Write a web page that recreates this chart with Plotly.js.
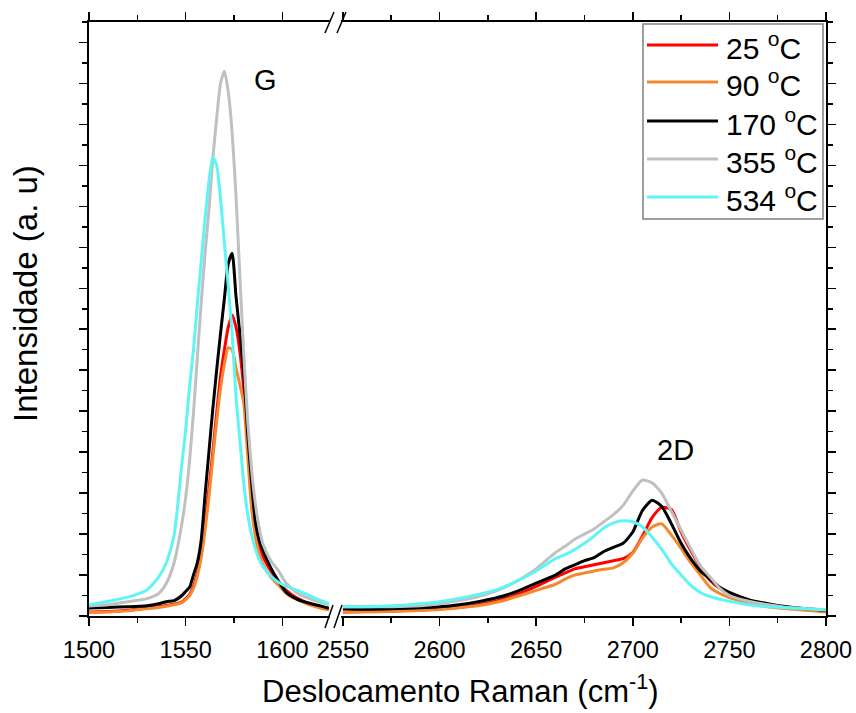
<!DOCTYPE html>
<html><head><meta charset="utf-8">
<script src="https://cdn.plot.ly/plotly-3.0.1.min.js"></script>
<style>html,body{margin:0;padding:0;background:#fff}#chart{width:856px;height:713px}</style>
</head><body><div id="chart"></div>
<script>
// Series labels and colours
const seriesNames = ['25 <sup>o</sup>C', '90 <sup>o</sup>C', '170 <sup>o</sup>C', '355 <sup>o</sup>C', '534 <sup>o</sup>C'];
const seriesColors = ['#ff0000', '#f3892f', '#000000', '#c0c0c0', '#5ff5f5'];

// G band region (cm-1)
const xG = [1500,1510,1520,1530,1536,1540,1544,1548,1550,1552,1554,1556,1558,1560,1562,1564,1566,1568,1570,1572,1574,1576,1578,1580,1582,1584,1586,1588,1590,1594,1598,1602,1608,1614,1620,1624];
const g25  = [0.2,0.22,0.28,0.39,0.45,0.52,0.58,0.68,0.85,1.05,1.45,2.1,3.0,4.5,6.2,8.0,9.9,11.7,13.0,14.1,14.7,14.1,12.9,11.1,8.8,6.3,4.5,3.5,2.9,2.2,1.65,1.25,0.85,0.6,0.42,0.32];
const g90  = [0.18,0.2,0.25,0.36,0.42,0.48,0.55,0.65,0.8,1.0,1.35,1.95,2.85,4.2,5.8,7.7,9.5,11.1,12.3,13.1,13.0,12.1,11.3,10.4,7.9,5.3,3.9,3.0,2.5,1.9,1.5,1.1,0.78,0.55,0.38,0.3];
const g170 = [0.39,0.42,0.45,0.5,0.6,0.7,0.75,1.0,1.2,1.4,2.0,2.6,3.7,5.9,8.0,10.1,12.0,13.8,15.5,17.2,17.7,15.6,13.8,11.9,9.0,6.6,4.6,3.7,3.2,2.35,1.7,1.15,0.8,0.62,0.48,0.38];
const g355 = [0.49,0.55,0.7,0.85,1.1,1.6,2.6,4.5,5.8,7.6,9.9,12.6,15.3,17.7,19.8,22.3,24.3,26.0,26.6,25.6,23.6,20.5,16.6,12.8,9.6,7.2,5.5,4.3,3.5,2.7,2.2,1.6,1.1,0.85,0.65,0.55];
const g534 = [0.54,0.72,0.92,1.27,1.9,2.6,3.95,7.4,9.1,11.2,13.0,15.2,17.3,19.4,21.2,22.4,22.0,20.4,18.2,16.1,13.8,10.7,8.6,6.5,5.0,4.0,3.3,2.75,2.4,1.95,1.65,1.45,1.25,1.0,0.75,0.6];

// 2D band region (cm-1)
const x2D = [2550,2560,2575,2590,2600,2610,2620,2630,2640,2650,2660,2665,2670,2675,2680,2685,2690,2695,2700,2705,2710,2715,2720,2725,2730,2735,2740,2745,2750,2760,2770,2780,2790,2800];
const d25  = [0.2,0.22,0.25,0.3,0.35,0.42,0.55,0.75,1.05,1.45,1.9,2.1,2.3,2.4,2.5,2.6,2.7,2.8,3.1,3.9,4.8,5.3,5.2,4.1,3.2,2.4,1.75,1.35,1.1,0.75,0.55,0.4,0.3,0.22];
const d90  = [0.18,0.2,0.22,0.27,0.32,0.4,0.5,0.68,0.95,1.25,1.55,1.8,2.0,2.1,2.2,2.28,2.35,2.6,3.06,3.8,4.35,4.5,3.95,3.3,2.6,2.0,1.4,1.1,0.9,0.62,0.45,0.35,0.28,0.2];
const d170 = [0.35,0.33,0.35,0.4,0.45,0.55,0.7,0.9,1.2,1.6,2.0,2.3,2.5,2.7,2.85,3.15,3.35,3.55,4.1,5.15,5.65,5.35,4.5,3.55,2.8,2.2,1.8,1.4,1.15,0.8,0.6,0.45,0.35,0.28];
const d355 = [0.45,0.45,0.45,0.5,0.6,0.75,0.95,1.25,1.7,2.3,3.1,3.4,3.75,4.0,4.25,4.6,4.95,5.4,6.1,6.64,6.5,6.0,5.1,4.2,3.3,2.45,1.9,1.35,1.0,0.72,0.55,0.42,0.35,0.3];
const d534 = [0.45,0.45,0.5,0.6,0.7,0.85,1.05,1.3,1.7,2.2,2.8,3.0,3.25,3.55,3.9,4.3,4.55,4.65,4.6,4.36,3.85,3.25,2.55,2.0,1.5,1.15,0.95,0.82,0.72,0.55,0.45,0.4,0.35,0.3];

// Tick labels
const xTicksLeft = [1500, 1550, 1600];
const xTicksRight = [2550, 2600, 2650, 2700, 2750, 2800];
const peakLabels = ['G', '2D'];

const gSeries = [g25, g90, g170, g355, g534];
const dSeries = [d25, d90, d170, d355, d534];

const FONT = 'Liberation Sans, Arial, sans-serif';
const traces = [];
gSeries.forEach((ys, i) => traces.push({
  x: xG, y: ys, xaxis: 'x', yaxis: 'y', type: 'scatter', mode: 'lines',
  line: {color: seriesColors[i], width: 3, shape: 'spline', smoothing: 0.6},
  name: seriesNames[i], showlegend: false, hoverinfo: 'skip'
}));
dSeries.forEach((ys, i) => traces.push({
  x: x2D, y: ys, xaxis: 'x2', yaxis: 'y2', type: 'scatter', mode: 'lines',
  line: {color: seriesColors[i], width: 3, shape: 'spline', smoothing: 0.6},
  name: seriesNames[i], showlegend: false, hoverinfo: 'skip'
}));

// plot-area geometry helpers (paper coords)
const L = 89, T = 22, W = 737, H = 594;
const px = v => (v - L) / W;
const py = v => (T + H - v) / H;

const axCommon = {
  showline: true, linewidth: 2, linecolor: '#000', showgrid: false, zeroline: false,
  ticks: 'outside', ticklen: 8, tickwidth: 1.5, tickcolor: '#000',
  tickfont: {family: FONT, size: 23.5, color: '#000'}, fixedrange: true
};
const xMinor = {dtick: 25, ticks: 'outside', ticklen: 5, tickwidth: 1.5, tickcolor: '#000', showgrid: false};
const yMinor = {dtick: 1, ticks: 'outside', ticklen: 5, tickwidth: 1.5, tickcolor: '#000', showgrid: false};

const shapes = [];
const annotations = [];
// axis break marks
[[325,628,333,605],[334,628,342,605],[325,33,334,12],[337,33,346,12]].forEach(s => shapes.push({
  type: 'line', xref: 'paper', yref: 'paper', x0: px(s[0]), y0: py(s[1]), x1: px(s[2]), y1: py(s[3]),
  line: {color: '#000', width: 1.5}
}));
// legend box
shapes.push({type: 'rect', xref: 'paper', yref: 'paper', x0: px(643), x1: px(823), y0: py(219), y1: py(24),
  line: {color: '#808080', width: 1.5}, fillcolor: 'rgba(255,255,255,0)'});
const legY = [45, 82, 121, 159, 197];
seriesNames.forEach((n, i) => {
  shapes.push({type: 'line', xref: 'paper', yref: 'paper', x0: px(647), x1: px(718), y0: py(legY[i]), y1: py(legY[i]),
    line: {color: seriesColors[i], width: 3}});
  annotations.push({xref: 'paper', yref: 'paper', x: px(724), y: py(legY[i] + 1), xanchor: 'left', yanchor: 'middle',
    text: n, showarrow: false, font: {family: FONT, size: 30, color: '#000'}});
});
// peak labels
annotations.push({xref: 'paper', yref: 'paper', x: px(265), y: py(80), text: peakLabels[0], showarrow: false,
  xanchor: 'center', yanchor: 'middle', font: {family: FONT, size: 29, color: '#000'}});
annotations.push({xref: 'paper', yref: 'paper', x: px(675), y: py(450), text: peakLabels[1], showarrow: false,
  xanchor: 'center', yanchor: 'middle', font: {family: FONT, size: 29, color: '#000'}});
// axis titles
annotations.push({xref: 'paper', yref: 'paper', x: px(460), y: py(689), text: 'Deslocamento Raman (cm<sup>-1</sup>)',
  showarrow: false, xanchor: 'center', yanchor: 'middle', font: {family: FONT, size: 31, color: '#000'}});
annotations.push({xref: 'paper', yref: 'paper', x: px(25), y: py(294), text: 'Intensidade (a. u)', textangle: -90,
  showarrow: false, xanchor: 'center', yanchor: 'middle', font: {family: FONT, size: 33, color: '#000'}});

const layout = {
  width: 856, height: 713,
  margin: {l: L, r: 856 - L - W, t: T, b: 713 - T - H},
  paper_bgcolor: '#fff', plot_bgcolor: '#fff',
  showlegend: false,
  font: {family: FONT, color: '#000'},
  xaxis: Object.assign({}, axCommon, {domain: [0, px(330)], range: [1500, 1624.6], tickmode: 'array', tickvals: xTicksLeft,
    minor: xMinor, mirror: 'ticks', anchor: 'y', ticklabelstandoff: 4}),
  xaxis2: Object.assign({}, axCommon, {domain: [px(341), 1], range: [2549, 2800], tickmode: 'array', tickvals: xTicksRight,
    minor: xMinor, mirror: 'ticks', anchor: 'y2', ticklabelstandoff: 4}),
  yaxis: Object.assign({}, axCommon, {domain: [0, 1], range: [0, 29], tick0: 0, dtick: 2, showticklabels: false,
    minor: yMinor, anchor: 'x'}),
  yaxis2: Object.assign({}, axCommon, {domain: [0, 1], range: [0, 29], tick0: 0, dtick: 2, showticklabels: false,
    minor: yMinor, anchor: 'x2', side: 'right'}),
  shapes: shapes,
  annotations: annotations
};
Plotly.newPlot('chart', traces, layout, {displayModeBar: false, staticPlot: true});
</script>
</body></html>
